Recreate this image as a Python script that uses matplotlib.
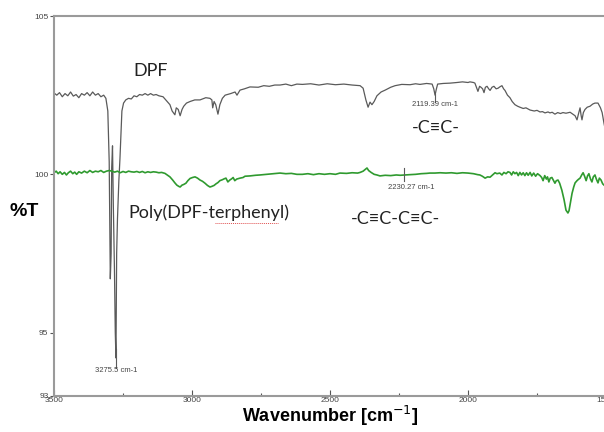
import numpy as np
import matplotlib
matplotlib.use("Agg")
import matplotlib.pyplot as plt
from matplotlib.ticker import MultipleLocator

# DPF spectrum (wavenumber cm-1, %T)
dpf_wn = [3500, 3490, 3480, 3470, 3460, 3450, 3440, 3430, 3420, 3410, 3400, 3390, 3380, 3370,
          3360, 3350, 3340, 3330, 3320, 3312, 3305, 3300, 3296, 3293, 3291, 3288, 3285, 3281,
          3278, 3275.5, 3273, 3270, 3265, 3261, 3257, 3254, 3248, 3240, 3230, 3220, 3210, 3200,
          3190, 3180, 3170, 3160, 3150, 3140, 3130, 3120, 3105, 3090, 3080, 3072, 3062, 3057,
          3050, 3043, 3036, 3030, 3020, 3007, 2990, 2971, 2950, 2935, 2928, 2925, 2920, 2914,
          2906, 2899, 2890, 2880, 2860, 2844, 2837, 2826, 2810, 2790, 2760, 2740, 2720, 2700,
          2681, 2660, 2640, 2620, 2600, 2570, 2540, 2510, 2480, 2450, 2420, 2391, 2380, 2370,
          2362, 2355, 2348, 2340, 2330, 2315, 2300, 2280, 2264, 2240, 2210, 2190, 2174, 2150,
          2130, 2124, 2119.39, 2115, 2110, 2090, 2065, 2040, 2020, 2000, 1993, 1980, 1975, 1964,
          1958, 1953, 1947, 1942, 1937, 1931, 1925, 1920, 1913, 1906, 1898, 1891, 1885, 1877,
          1871, 1866, 1857, 1848, 1840, 1830, 1820, 1812, 1800, 1790, 1775, 1760, 1750, 1739,
          1730, 1721, 1710, 1703, 1695, 1685, 1675, 1665, 1656, 1645, 1630, 1620, 1612, 1605,
          1600, 1594, 1590, 1587, 1582, 1576, 1568, 1558, 1548, 1540, 1529, 1520, 1514, 1507, 1500]
dpf_t = [102.57, 102.5, 102.58, 102.45, 102.55, 102.48, 102.6, 102.47, 102.52, 102.42, 102.55,
         102.5, 102.58, 102.48, 102.6, 102.5, 102.55, 102.45, 102.5, 102.4, 102.0, 100.4, 96.7,
         97.5, 100.2, 100.9, 99.0, 97.0, 95.0, 94.2, 97.5, 98.6, 99.8, 100.5, 101.4, 102.0,
         102.25, 102.35, 102.4, 102.38, 102.48, 102.45, 102.52, 102.5, 102.55, 102.5, 102.55,
         102.5, 102.52, 102.48, 102.45, 102.3, 102.2, 102.0, 101.88, 102.1, 102.05, 101.85,
         102.05, 102.15, 102.25, 102.3, 102.35, 102.35, 102.42, 102.4, 102.35, 102.1, 102.3,
         102.2, 101.9, 102.2, 102.4, 102.5, 102.55, 102.6, 102.5, 102.66, 102.7, 102.76, 102.75,
         102.8, 102.78, 102.82, 102.82, 102.85, 102.8, 102.85, 102.84, 102.86, 102.82, 102.86,
         102.83, 102.85, 102.82, 102.8, 102.72, 102.35, 102.12, 102.28, 102.2, 102.3, 102.48,
         102.6, 102.66, 102.75, 102.8, 102.84, 102.83, 102.86, 102.84, 102.87, 102.85, 102.7,
         102.5, 102.68, 102.85, 102.87, 102.88, 102.9, 102.92, 102.9, 102.92, 102.9, 102.88,
         102.62, 102.78, 102.75, 102.7, 102.58, 102.75, 102.78, 102.7, 102.65, 102.75, 102.78,
         102.7, 102.72, 102.76, 102.8, 102.7, 102.65, 102.5, 102.42, 102.3, 102.2, 102.15,
         102.12, 102.08, 102.1, 102.03, 102.0, 102.02, 101.97, 101.98, 101.94, 101.97, 101.94,
         101.96, 101.9, 101.95, 101.92, 101.95, 101.93, 101.96, 101.9, 101.85, 101.72, 101.9,
         102.1, 101.85, 101.72, 101.95, 102.05, 102.12, 102.15, 102.22, 102.25, 102.25, 102.1,
         101.95, 101.6, 101.3]

# Poly(DPF-terphenyl) spectrum
poly_wn = [3500, 3492, 3485, 3478, 3470, 3462, 3455, 3448, 3440, 3432, 3425, 3418, 3410, 3400,
           3390, 3380, 3370, 3360, 3350, 3340, 3330, 3320, 3310, 3300, 3290, 3280, 3270, 3260,
           3250, 3240, 3230, 3220, 3210, 3200, 3190, 3180, 3170, 3160, 3150, 3140, 3130, 3120,
           3110, 3098, 3090, 3080, 3070, 3062, 3055, 3048, 3043, 3036, 3030, 3022, 3015, 3007,
           2998, 2989, 2980, 2971, 2962, 2953, 2944, 2935, 2928, 2920, 2913, 2906, 2899, 2890,
           2883, 2877, 2870, 2863, 2856, 2851, 2845, 2838, 2826, 2815, 2808, 2790, 2770, 2754,
           2730, 2710, 2690, 2681, 2660, 2640, 2620, 2600, 2580, 2560, 2540, 2520, 2500, 2480,
           2464, 2440, 2420, 2400, 2391, 2380, 2370, 2366, 2360, 2351, 2340, 2330, 2319, 2300,
           2280, 2260, 2246, 2230, 2210, 2190, 2170, 2150, 2138, 2120, 2101, 2080, 2060, 2040,
           2020, 2000, 1980, 1965, 1957, 1948, 1938, 1929, 1920, 1911, 1902, 1895, 1885, 1877,
           1870, 1862, 1855, 1848, 1842, 1836, 1830, 1824, 1818, 1812, 1806, 1800, 1794, 1788,
           1782, 1775, 1769, 1762, 1755, 1748, 1739, 1733, 1728, 1722, 1716, 1712, 1707, 1702,
           1696, 1690, 1685, 1680, 1674, 1668, 1660, 1652, 1645, 1638, 1634, 1630, 1623, 1617,
           1612, 1605, 1600, 1594, 1588, 1583, 1578, 1572, 1567, 1562, 1556, 1551, 1546, 1540,
           1535, 1529, 1524, 1518, 1512, 1507, 1500]
poly_t = [100.05, 100.1, 100.02, 100.08, 100.0, 100.06, 99.98, 100.05, 100.1, 100.02, 100.07,
          100.0, 100.08, 100.04, 100.1, 100.05, 100.12, 100.06, 100.1, 100.08, 100.12, 100.06,
          100.1, 100.12, 100.1, 100.07, 100.1, 100.05, 100.09, 100.06, 100.1, 100.08, 100.07,
          100.09, 100.06, 100.09, 100.05, 100.08, 100.06, 100.08, 100.07, 100.05, 100.06, 100.03,
          99.98, 99.92, 99.82, 99.73, 99.66, 99.62, 99.6, 99.66, 99.68, 99.72, 99.8, 99.87, 99.9,
          99.92, 99.88, 99.82, 99.78, 99.72, 99.65, 99.6, 99.62, 99.65, 99.7, 99.74, 99.8, 99.83,
          99.86, 99.88, 99.76, 99.82, 99.86, 99.9, 99.8, 99.85, 99.88, 99.9, 99.94, 99.95, 99.97,
          99.98, 100.0, 100.02, 100.03, 100.04, 100.02, 100.03, 100.0, 100.0, 100.02, 99.99,
          100.02, 100.0, 100.02, 100.0, 100.04, 100.03, 100.05, 100.04, 100.06, 100.1, 100.17,
          100.2, 100.12, 100.06, 100.0, 99.98, 99.95, 99.97, 99.96, 99.98, 99.97, 99.98, 99.99,
          100.0, 100.02, 100.03, 100.04, 100.04, 100.05, 100.04, 100.05, 100.03, 100.05, 100.04,
          100.02, 99.99, 99.98, 99.94, 99.88, 99.92, 99.91, 99.98, 100.05, 100.02, 100.04, 99.98,
          100.06, 100.02, 100.08, 100.06, 99.98, 100.08, 100.02, 100.06, 99.96, 100.06, 99.98,
          100.05, 99.96, 100.05, 99.97, 100.06, 99.95, 100.04, 99.94, 100.02, 99.96, 99.9, 99.8,
          99.96, 99.85, 99.92, 99.76, 99.88, 99.9, 99.8, 99.72, 99.8, 99.82, 99.72, 99.5, 99.2,
          98.87, 98.78, 98.85, 99.05, 99.4, 99.6, 99.73, 99.8, 99.84, 99.88, 99.98, 100.05,
          99.95, 99.8, 99.95, 100.02, 99.85, 99.76, 99.92, 99.98, 99.85, 99.73, 99.88, 99.82,
          99.7, 99.66, 99.6]

# peak labels
peak_wn = [3275.5, 2119.39, 2230.27]
peak_lbl = ["3275.5 cm-1", "2119.39 cm-1", "2230.27 cm-1"]

x_ticks = [3500, 3000, 2500, 2000, 1500]
y_ticks = [105, 100, 95, 93]

fig = plt.figure(figsize=(6.04, 4.32), dpi=100)
ax = fig.add_axes([54 / 604, 36 / 432, 552 / 604, 380 / 432])

ax.plot(dpf_wn, dpf_t, color="#5a5a5a", lw=0.9)
ax.plot(poly_wn, poly_t, color="#2f9a2f", lw=1.2)

ax.set_xlim(3500, 1500)
ax.set_ylim(93, 105)

# peak markers
ax.plot([peak_wn[0], peak_wn[0]], [94.5, 93.9], color="#5a5a5a", lw=0.8)
ax.text(peak_wn[0], 93.8, peak_lbl[0], fontsize=5.5, color="#444444", ha="center", va="center",
        family="Liberation Sans")
ax.plot([peak_wn[1], peak_wn[1]], [102.55, 102.3], color="#5a5a5a", lw=0.8)
ax.text(peak_wn[1], 102.2, peak_lbl[1], fontsize=5.5, color="#444444", ha="center", va="center",
        family="Liberation Sans")
ax.plot([peak_wn[2], peak_wn[2]], [100.2, 99.8], color="#5a5a5a", lw=0.8)
ax.text(peak_wn[2] - 25, 99.6, peak_lbl[2], fontsize=5.5, color="#444444", ha="center", va="center",
        family="Liberation Sans")

# annotations
ax.text(3150, 103.25, "DPF", fontsize=13, color="#222222", ha="center", va="center", family="Lato")
ax.text(2116, 101.45, "-C\u2261C-", fontsize=13, color="#222222", ha="center", va="center", family="Lato")
ax.text(2938, 98.8, "Poly(DPF-terphenyl)", fontsize=13, color="#222222", ha="center", va="center",
        family="Lato")
ax.text(2264, 98.6, "-C\u2261C-C\u2261C-", fontsize=13, color="#222222", ha="center", va="center",
        family="Lato")
# spell-check squiggle under "terphenyl"
ax.plot([2915, 2690], [98.45, 98.45], color="#e05050", lw=0.7, ls=(0, (1, 1)))

fig.text(24 / 604, 1 - 212 / 432, "%T", fontsize=14, fontweight="bold", ha="center", va="center",
         family="Liberation Sans")
fig.text(330 / 604, 1 - 416 / 432, "Wavenumber [cm$^{-1}$]", fontsize=13, fontweight="bold",
         ha="center", va="center", family="Liberation Sans")

ax.set_xticks(x_ticks)
ax.xaxis.set_minor_locator(MultipleLocator(250))
ax.set_yticks(y_ticks)
ax.tick_params(axis="x", which="major", direction="in", length=4, width=0.8, color="#555555",
               labelsize=6, labelcolor="#444444", pad=1)
ax.tick_params(axis="x", which="minor", direction="in", length=2, width=0.8, color="#555555")
ax.tick_params(axis="y", direction="out", length=3, width=0.8, color="#555555",
               labelsize=6, labelcolor="#444444", pad=1)
for lbl in ax.get_xticklabels() + ax.get_yticklabels():
    lbl.set_family("Liberation Sans")

for s in ["left", "bottom", "top"]:
    ax.spines[s].set_color("#9a9a9a")
    ax.spines[s].set_linewidth(1.5)
ax.spines["right"].set_visible(False)

fig.savefig("out.png", dpi=100)
